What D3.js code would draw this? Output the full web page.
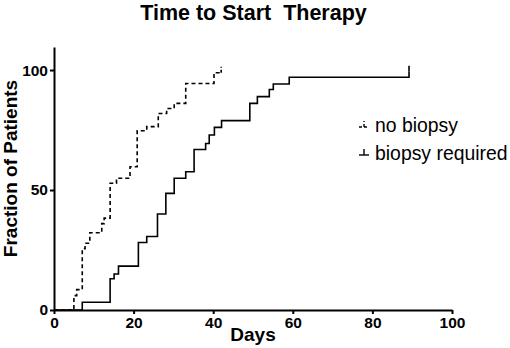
<!DOCTYPE html>
<html>
<head>
<meta charset="utf-8">
<script src="https://cdn.jsdelivr.net/npm/d3@7"></script>
<style>
  body { margin: 0; background: #fff; }
  svg { display: block; font-family: "Liberation Sans", Arial, sans-serif; }
</style>
</head>
<body>
<svg id="chart" width="510" height="348"></svg>
<script>
// step events: day -> fraction of patients (%)
const noBiopsyDays = [5.0, 5.7, 7.1, 7.8, 9.0, 12.0, 12.6, 14.1, 15.7, 19.1, 20.9, 23.3, 26.2, 28.3, 30.2, 33.1, 40.2];
const noBiopsyFrac = [6.0, 8.5, 25.5, 27.8, 32.2, 36.0, 38.3, 52.8, 54.9, 59.7, 74.7, 76.4, 81.9, 84.0, 86.1, 94.4, 98.9];
const noBiopsyEnd = 42;

const biopsyDays = [7.1, 14.1, 15.1, 16.2, 21.2, 23.3, 26.0, 28.1, 30.2, 33.1, 35.2, 38.1, 39.0, 40.3, 42.1, 49.2, 51.1, 54.1, 55.1, 59.1, 89.2];
const biopsyFrac = [3.2, 13.0, 15.0, 18.3, 28.1, 30.6, 40.0, 48.6, 54.9, 57.6, 66.9, 69.4, 72.9, 76.1, 78.9, 86.1, 88.9, 91.9, 94.2, 97.0, 99.3];
const biopsyEnd = 89.2;

const xTicks = [0, 20, 40, 60, 80, 100];
const yTicks = [0, 50, 100];
const seriesNames = ["no biopsy", "biopsy required"];

const svg = d3.select("#chart");

const x = d3.scaleLinear().domain([0, 100]).range([54, 452]);
const y = d3.scaleLinear().domain([0, 109.6]).range([310, 47]);

function buildSteps(days, frac, end) {
	let pts = [[0, 0]];
	days.forEach((d, i) => pts.push([d, frac[i]]));
	pts.push([end, frac[frac.length - 1]]);
	return pts;
}

const series = [
	{ name: seriesNames[0], pts: buildSteps(noBiopsyDays, noBiopsyFrac, noBiopsyEnd), end: noBiopsyEnd, dash: "4,3" },
	{ name: seriesNames[1], pts: buildSteps(biopsyDays, biopsyFrac, biopsyEnd), end: biopsyEnd, dash: null }
];

const line = d3.line()
	.x((d) => x(d[0]))
	.y((d) => y(d[1]))
	.curve(d3.curveStepAfter);

const tickLen = 6;

series.forEach((s) => {
	let g = svg.append("g")
		.attr("fill", "none")
		.attr("stroke", "#000")
		.attr("stroke-width", 1.6);
	g.append("path")
		.attr("d", line(s.pts))
		.attr("stroke-dasharray", s.dash);
	// censor tick at end
	let last = s.pts[s.pts.length - 1];
	g.append("line")
		.attr("x1", x(s.end)).attr("x2", x(s.end))
		.attr("y1", y(last[1])).attr("y2", y(last[1]) - tickLen)
		.attr("stroke-dasharray", s.dash ? "3,2" : null);
});

// axes
let xAxis = svg.append("g")
	.attr("transform", "translate(0,310)")
	.call(d3.axisBottom(x).tickValues(xTicks).tickSize(4).tickSizeOuter(0).tickPadding(3));
let yAxis = svg.append("g")
	.attr("transform", "translate(54,0)")
	.call(d3.axisLeft(y).tickValues(yTicks).tickSize(4).tickSizeOuter(0).tickPadding(2));

[xAxis, yAxis].forEach((a) => {
	a.select(".domain").attr("stroke-width", 2);
	a.selectAll(".tick line").attr("stroke-width", 2);
	a.selectAll("text")
		.attr("font-family", "Liberation Sans, Arial, sans-serif")
		.attr("font-size", 15.5)
		.attr("font-weight", "bold")
		.attr("fill", "#000");
});

// titles
svg.append("text")
	.attr("x", 253.5)
	.attr("y", 20)
	.attr("text-anchor", "middle")
	.attr("font-size", 21.5)
	.attr("font-weight", "bold")
	.text("Time to Start  Therapy")
	.style("white-space", "pre");

svg.append("text")
	.attr("x", 253)
	.attr("y", 341)
	.attr("text-anchor", "middle")
	.attr("font-size", 19)
	.attr("font-weight", "bold")
	.text("Days");

svg.append("text")
	.attr("transform", "translate(17,168.5) rotate(-90)")
	.attr("text-anchor", "middle")
	.attr("font-size", 19)
	.attr("font-weight", "bold")
	.text("Fraction of Patients");

// legend
const legendY = [127, 155];
const legend = svg.append("g");
series.forEach((s, i) => {
	let ly = legendY[i];
	let lg = legend.append("g")
		.attr("fill", "none")
		.attr("stroke", "#000")
		.attr("stroke-width", 1.4);
	lg.append("line")
		.attr("x1", 359).attr("x2", 369)
		.attr("y1", ly).attr("y2", ly)
		.attr("stroke-dasharray", s.dash ? "3,2" : null);
	lg.append("line")
		.attr("x1", 364).attr("x2", 364)
		.attr("y1", ly).attr("y2", ly - 6)
		.attr("stroke-dasharray", s.dash ? "3,2" : null);
	legend.append("text")
		.attr("x", 375)
		.attr("y", ly + 5)
		.attr("font-size", 19.4)
		.text(s.name);
});
</script>
</body>
</html>
